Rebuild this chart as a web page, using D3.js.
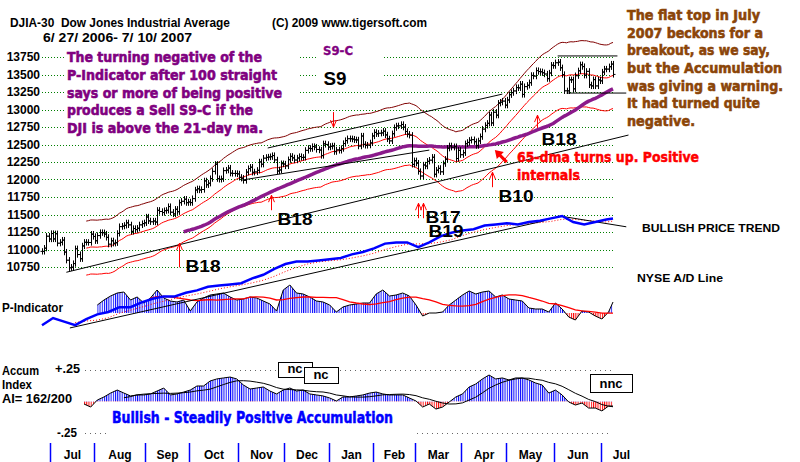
<!DOCTYPE html>
<html>
<head>
<meta charset="utf-8">
<script src="https://cdn.jsdelivr.net/npm/d3@7"></script>
<style>
  body { margin: 0; background: #fff; }
  text { font-family: "Liberation Sans", Arial, sans-serif; font-weight: bold; }
  text.heavy { font-family: "DejaVu Sans", sans-serif; }
</style>
</head>
<body>
<svg id="chart" width="800" height="462"></svg>
<script>
// DJIA daily closes, 6/27/2006 - 7/10/2007
var closes = [
  10973, 11019, 11190, 11150,
  11228, 11151, 11225, 11090, 11103, 11134, 10963, 10847, 10739, 10747, 10799, 11011, 10928, 10868, 11051, 11103, 11102, 11100, 11219, 11186,
  11125, 11199, 11242, 11240, 11220, 11173, 11076, 11124, 11089, 11097, 11230, 11327, 11334, 11345, 11381, 11352, 11259, 11300, 11284, 11304, 11352, 11370, 11381,
  11464, 11409, 11396, 11407, 11392, 11560, 11543, 11528, 11555, 11560, 11613, 11533, 11508, 11575, 11540, 11669, 11689, 11718, 11669, 11679,
  11670, 11727, 11850, 11867, 11850, 11857, 11980, 11925, 11947, 12013, 12116, 12217, 12012, 12002, 12011, 12127, 12134, 12163, 12090, 12087, 12086, 12080,
  12031, 12018, 11986, 12105, 12156, 12176, 12103, 12108, 12131, 12251, 12218, 12305, 12316, 12321, 12326, 12342, 12280, 12121, 12136, 12226, 12221,
  12194, 12283, 12331, 12309, 12278, 12307, 12328, 12315, 12317, 12416, 12445, 12441, 12471, 12463, 12429, 12421, 12343, 12510, 12501, 12463,
  12474, 12480, 12398, 12423, 12416, 12442, 12514, 12556, 12583, 12582, 12577, 12567, 12565, 12477, 12621, 12502, 12487, 12491, 12523, 12622,
  12673, 12653, 12661, 12666, 12690, 12637, 12580, 12552, 12654, 12741, 12765, 12767, 12786, 12748, 12686, 12647, 12632, 12216, 12268,
  12234, 12114, 12050, 12207, 12192, 12260, 12276, 12318, 12075, 12133, 12159, 12110, 12226, 12289, 12447, 12481, 12461, 12469, 12300, 12417, 12354,
  12382, 12511, 12530, 12560, 12569, 12540, 12484, 12552, 12612, 12720, 12773, 12803, 12921, 12808, 12961, 12919, 13090, 13105, 13120, 13062,
  13136, 13211, 13241, 13265, 13313, 13309, 13362, 13215, 13327, 13346, 13383, 13487, 13477, 13556, 13542, 13539, 13525, 13507, 13441, 13521, 13633, 13627,
  13668, 13676, 13596, 13500, 13267, 13266, 13424, 13425, 13295, 13483, 13553, 13639, 13613, 13490, 13545, 13352, 13337, 13427, 13337, 13422, 13409,
  13535, 13578, 13577, 13611, 13649, 13501
];

var priceTicks = [10750, 11000, 11250, 11500, 11750, 12000, 12250, 12500, 12750, 13000, 13250, 13500, 13750];
var monthNames = ["Jul", "Aug", "Sep", "Oct", "Nov", "Dec", "Jan", "Feb", "Mar", "Apr", "May", "Jun", "Jul"];
var monthStart = [4, 24, 47, 67, 89, 110, 130, 150, 169, 190, 210, 232, 253]; // first trading day of each month

// NYSE A/D line, one reading every 5 trading days
var adLine = [4, 10, 7, 4, 9, 13, 15, 19, 19, 23, 26, 28, 28, 31, 33, 36, 37, 38, 39, 43,
  46, 51, 55, 57, 57, 58, 59, 60, 63, 65, 68, 72, 73, 73, 69, 73, 78, 81, 83, 84,
  87, 88, 89, 88, 90, 91, 93, 95, 90, 88, 90, 92, 93];

// P-Indicator, one reading every 3 trading days from day 25
var pIndicator = [80, 130, 170, 200, 210, 130, 160, 100, 150, 230, 150, 120, 110, 130, 20, 110, 150, 180, 190, 200,
  160, 130, 140, 160, 150, 120, 90, 20, 230, 280, 200, 190, 160, 120, 110, 80, 10, 60, 80, 90,
  100, 100, 190, 230, 170, 180, 200, 170, 80, -30, 0, 0, 10, 80, 130, 180, 220, 190, 210, 220,
  160, 180, 140, 130, 120, 50, 40, 40, 10, 100, 40, -40, -70, 20, 10, -30, -60, 10, 110];

// Accumulation Index, one reading every 3 trading days from day 19
var accum = [-0.020, -0.044, 0.012, 0.036, 0.067, 0.091, 0.067, 0.044, 0.052, 0.052,
  0.060, 0.083, 0.107, 0.052, 0.060, 0.075, 0.091, 0.123, 0.123, 0.163,
  0.179, 0.187, 0.194, 0.179, 0.131, 0.099, 0.107, 0.115, 0.083, 0.060,
  0.091, 0.107, 0.083, 0.091, 0.060, 0.052, 0.044, 0.028, 0.004, 0.036,
  0.036, 0.044, 0.052, 0.067, 0.075, 0.060, 0.052, 0.052, 0.052, 0.028,
  0.004, -0.044, -0.020, -0.060, -0.044, -0.004, 0.036, 0.060, 0.115, 0.139,
  0.179, 0.210, 0.179, 0.187, 0.171, 0.187, 0.187, 0.171, 0.147, 0.131,
  0.067, 0.091, 0.052, -0.004, -0.028, -0.012, -0.052, -0.052, -0.075, -0.036,
  -0.036];

// hand-drawn trendlines [day, price]
var priceTrend = [[11, 10675], [265, 12635]];
var channelTop = [[102, 12450], [208, 13220]];
var channelBottom = [[90, 11990], [175, 12420]];
var flatTop = [[233, 13765], [260, 13765]];
var flatBottom = [[237, 13235], [264, 13235]];
var adTrend = [[12.6, 1.7], [227, 91]];
var adTop = [[234, 95], [264, 86]];

// signals: name, day, arrow tail price, arrow tip price
var signals = [
  ["B18", 62, 10745, 11090],
  ["B18", 103.5, 11561, 11776],
  ["S9", 131.5, 12963, 12748],
  ["B17", 170, 11447, 11661],
  ["B19", 172, 11447, 11661],
  ["B10", 203.3, 11890, 12105],
  ["B18", 223.6, 12734, 12920]
];
var signalLabelOffset = [[6, 5], [6, 15], [-10, -27], [7, 5], [5, 19], [6, 15], [4, 17]];

var svg = d3.select("#chart");
var n = closes.length;
var x = d3.scaleLinear().domain([0, n - 1]).range([42, 613]);
var y = d3.scaleLinear().domain([10750, 13750]).range([267, 57]);
var adY = d3.scaleLinear().domain([0, 100]).range([330, 210]);
var pY = d3.scaleLinear().domain([0, 300]).range([313, 283]);
var accY = d3.scaleLinear().domain([-0.25, 0.25]).range([433, 370]);

function movingAvg(arr, len) {
  return arr.map(function (v, i) {
    return i < len - 1 ? null : d3.mean(arr.slice(i - len + 1, i + 1));
  });
}

function label(s, x0, y0, w, size, color, heavy) {
  var t = svg.append("text").attr("x", x0).attr("y", y0)
    .attr("font-size", size).attr("fill", color).text(s);
  if (w) t.attr("textLength", w).attr("lengthAdjust", "spacingAndGlyphs");
  if (heavy) t.attr("class", "heavy").attr("stroke", color).attr("stroke-width", heavy);
  return t;
}

// hatch fills for histograms
var defs = svg.append("defs");
var step = x(1) - x(0);
function hatch(id, color) {
  var p = defs.append("pattern").attr("id", id)
    .attr("patternUnits", "userSpaceOnUse")
    .attr("x", x(0)).attr("width", step).attr("height", 20);
  p.append("rect").attr("width", 1).attr("height", 20).attr("fill", color);
}
hatch("blueHatch", "#0000ff");
hatch("redHatch", "#ff0000");

// ---- price grid
svg.append("g").selectAll("line").data(priceTicks).enter().append("line")
  .attr("x1", 42).attr("x2", 615)
  .attr("y1", function (d) { return Math.round(y(d)) + 0.5; })
  .attr("y2", function (d) { return Math.round(y(d)) + 0.5; })
  .attr("stroke", "#008000").attr("stroke-dasharray", "1,2");

svg.append("g").selectAll("text").data(priceTicks).enter().append("text")
  .attr("x", 40).attr("y", function (d) { return y(d) + 4; })
  .attr("text-anchor", "end").attr("font-size", 12)
  .text(function (d) { return d; });

// white backgrounds behind the text blocks
svg.append("rect").attr("x", 64).attr("y", 47).attr("width", 236).attr("height", 91).attr("fill", "#fff");
svg.append("rect").attr("x", 318).attr("y", 44).attr("width", 64).attr("height", 36).attr("fill", "#fff");

// ---- moving averages and bands
var ma21 = movingAvg(closes, 21);
var ma65 = movingAvg(closes, 65);
function priceLine(vals, k) {
  return d3.line().defined(function (d) { return d != null; })
    .x(function (d, i) { return x(i); })
    .y(function (d) { return y(d * k); })(vals);
}
svg.append("path").attr("d", priceLine(ma21, 1.035)).attr("fill", "none").attr("stroke", "#800000");
svg.append("path").attr("d", priceLine(ma21, 0.965)).attr("fill", "none").attr("stroke", "#ff0000");
svg.append("path").attr("d", priceLine(ma21, 1)).attr("fill", "none").attr("stroke", "#ff0000");
svg.append("path").attr("d", priceLine(ma65, 1)).attr("fill", "none").attr("stroke", "#8b1a8b").attr("stroke-width", 3.5);

// ---- OHLC bars
var barPath = closes.map(function (c, i) {
  var o = i > 0 ? closes[i - 1] : c;
  var hi = Math.max(o, c) + 45, lo = Math.min(o, c) - 45;
  var xr = Math.round(x(i)) + 0.5;
  return "M" + xr + "," + y(hi) + "V" + y(lo) +
    "M" + (xr - 2) + "," + y(o) + "H" + xr +
    "M" + xr + "," + y(c) + "H" + (xr + 2);
}).join("");
svg.append("path").attr("d", barPath).attr("stroke", "#000").attr("fill", "none");

// ---- trendlines
var trendLine = d3.line().x(function (d) { return x(d[0]); }).y(function (d) { return y(d[1]); });
[priceTrend, channelTop, channelBottom, flatTop, flatBottom].forEach(function (t) {
  svg.append("path").attr("d", trendLine(t)).attr("stroke", "#000").attr("fill", "none");
});

// ---- P-Indicator histogram
var pData = pIndicator.map(function (v, k) { return [Math.min(25 + 3 * k, n - 1), v]; });
var pArea = d3.area().x(function (d) { return x(d[0]); }).y0(pY(0)).y1(function (d) { return pY(d[1]); });
defs.append("clipPath").attr("id", "pPos").append("rect").attr("x", 0).attr("y", 0).attr("width", 800).attr("height", pY(0));
defs.append("clipPath").attr("id", "pNeg").append("rect").attr("x", 0).attr("y", pY(0)).attr("width", 800).attr("height", 100);
svg.append("path").attr("d", pArea(pData)).attr("fill", "url(#blueHatch)").attr("clip-path", "url(#pPos)");
svg.append("path").attr("d", pArea(pData)).attr("fill", "url(#redHatch)").attr("clip-path", "url(#pNeg)");
svg.append("path").attr("d", d3.line().x(function (d) { return x(d[0]); }).y(function (d) { return pY(d[1]); })(pData))
  .attr("fill", "none").attr("stroke", "#000");
var pMa = movingAvg(pIndicator, 9);
svg.append("path")
  .attr("d", d3.line().defined(function (d, k) { return pMa[k] != null; })
    .x(function (d) { return x(d[0]); }).y(function (d, k) { return pY(pMa[k]); })(pData))
  .attr("fill", "none").attr("stroke", "#ff0000").attr("stroke-width", 1.3);

// ---- A/D line
var adData = adLine.map(function (v, k) { return [Math.min(5 * k, n - 1), v]; });
var adMa = movingAvg(adLine, 4);
var adLineGen = d3.line().x(function (d) { return x(d[0]); }).y(function (d) { return adY(d[1]); });
svg.append("path")
  .attr("d", d3.line().defined(function (d, k) { return adMa[k] != null; })
    .x(function (d) { return x(d[0]); }).y(function (d, k) { return adY(adMa[k]); })(adData))
  .attr("fill", "none").attr("stroke", "#ff0000").attr("stroke-dasharray", "1,2");
[adTrend, adTop].forEach(function (t) {
  svg.append("path").attr("d", adLineGen(t)).attr("stroke", "#000").attr("fill", "none");
});
svg.append("path").attr("d", adLineGen(adData)).attr("fill", "none").attr("stroke", "#0000ff").attr("stroke-width", 2.5);

// ---- Accumulation Index
var aData = accum.map(function (v, k) { return [Math.min(19 + 3 * k, n - 1), v]; });
var aArea = d3.area().x(function (d) { return x(d[0]); }).y0(accY(0)).y1(function (d) { return accY(d[1]); });
defs.append("clipPath").attr("id", "aPos").append("rect").attr("x", 0).attr("y", 0).attr("width", 800).attr("height", accY(0));
defs.append("clipPath").attr("id", "aNeg").append("rect").attr("x", 0).attr("y", accY(0)).attr("width", 800).attr("height", 100);
svg.append("line").attr("x1", 85).attr("x2", 612).attr("y1", 370.5).attr("y2", 370.5)
  .attr("stroke", "#666").attr("stroke-dasharray", "1,4");
svg.append("line").attr("x1", 85).attr("x2", 110).attr("y1", 433.5).attr("y2", 433.5)
  .attr("stroke", "#666").attr("stroke-dasharray", "1,4");
svg.append("line").attr("x1", 417).attr("x2", 612).attr("y1", 433.5).attr("y2", 433.5)
  .attr("stroke", "#666").attr("stroke-dasharray", "1,4");
svg.append("path").attr("d", aArea(aData)).attr("fill", "url(#blueHatch)").attr("clip-path", "url(#aPos)");
svg.append("path").attr("d", aArea(aData)).attr("fill", "url(#redHatch)").attr("clip-path", "url(#aNeg)");
svg.append("path").attr("d", d3.line().x(function (d) { return x(d[0]); }).y(function (d) { return accY(d[1]); })(aData))
  .attr("fill", "none").attr("stroke", "#000");
var aMa = movingAvg(accum, 7);
svg.append("path")
  .attr("d", d3.line().defined(function (d, k) { return aMa[k] != null; })
    .x(function (d) { return x(d[0]); }).y(function (d, k) { return accY(aMa[k]); })(aData))
  .attr("fill", "none").attr("stroke", "#000");

// ---- month axis
var tickX = monthStart.map(function (d) { return Math.round(x(d - 0.5)) + 0.5; });
svg.append("g").selectAll("line").data(tickX).enter().append("line")
  .attr("x1", function (d) { return d; }).attr("x2", function (d) { return d; })
  .attr("y1", 443).attr("y2", 462).attr("stroke", "#0000ff").attr("stroke-width", 1.5);
svg.append("g").selectAll("text").data(monthNames).enter().append("text")
  .attr("x", function (d, i) { return ((tickX[i]) + (i < tickX.length - 1 ? tickX[i + 1] : tickX[i] + 40)) / 2; })
  .attr("y", 459).attr("text-anchor", "middle").attr("font-size", 12)
  .text(function (d) { return d; });

// ---- signal arrows
signals.forEach(function (s, i) {
  var ax = Math.round(x(s[1])) + 0.5, y0 = y(s[2]), y1 = y(s[3]);
  var dir = y1 < y0 ? 1 : -1;
  svg.append("path")
    .attr("d", "M" + ax + "," + y0 + "V" + y1 + "M" + (ax - 3) + "," + (y1 + dir * 7) + "L" + ax + "," + y1 + "L" + (ax + 3) + "," + (y1 + dir * 7))
    .attr("stroke", "#ff0000").attr("fill", "none");
  label(s[0], ax + signalLabelOffset[i][0], y0 + signalLabelOffset[i][1], s[0].length * 12 - 1, s[0] === "S9" ? 18 : 17, "#000");
});

// 65-dma turning arrow
var tA = [x(210), y(12248)], tB = [x(204.6), y(12420)];
svg.append("line").attr("x1", tA[0]).attr("y1", tA[1]).attr("x2", tB[0] + 4).attr("y2", tB[1] + 4)
  .attr("stroke", "#ff0000").attr("stroke-width", 3);
svg.append("path")
  .attr("d", "M" + tB[0] + "," + tB[1] + "l9,2l-7,7z").attr("fill", "#ff0000");

// ---- text annotations
label("DJIA-30\u00a0\u00a0Dow Jones Industrial Average", 10, 27, 220, 13, "#000");
label("(C) 2009 www.tigersoft.com", 272, 27, 155, 13, "#000");
label("6/ 27/ 2006- 7/ 10/ 2007", 43, 42, 149, 13, "#000");

var purple = "#800080";
[["The turning negative of the", 62, 195], ["P-Indicator after 100 straight", 80, 210],
 ["says or more of being positive", 97.5, 215], ["produces a Sell S9-C if the", 115, 186],
 ["DJI is above the 21-day ma.", 133, 196]].forEach(function (l) {
  label(l[0], 67, l[1], l[2], 14, purple, 0.6);
});
label("S9-C", 323, 55, 30, 12, purple, 0.3);

var brown = "#8b4508";
[["The flat top in July", 20, 133], ["2007 beckons for a", 37.5, 136], ["breakout, as we say,", 55, 143],
 ["but the Accumulation", 73, 155], ["was giving a warning.", 91, 156], ["It had turned quite", 108, 133],
 ["negative.", 126, 68]].forEach(function (l) {
  label(l[0], 627, l[1], l[2], 14, brown, 0.6);
});

label("65-dma turns up. Positive", 517, 162, 182, 14, "#ff0000", 0.5);
label("internals", 517, 180, 63, 14, "#ff0000", 0.5);

label("BULLISH PRICE TREND", 642, 232, 138, 11, "#000");
label("NYSE A/D Line", 637, 282, 86, 11, "#000");
label("P-Indicator", 2, 312, 61, 12, "#000");
label("Accum", 2, 375, 37, 12, "#000");
label("Index", 2, 389, 30, 12, "#000");
label("AI= 162/200", 2, 403, 70, 12, "#000");
label("+.25", 55, 373, 25, 12, "#000");
label("-.25", 57, 437, 20, 12, "#000");
label("Bullish - Steadily Positive Accumulation", 112, 423, 281, 15, "#0000ff", 0.5);

// nc boxes
[["nc", 278, 362, 34, 15], ["nc", 304, 367, 34, 16], ["nnc", 590, 374, 42, 18]].forEach(function (b) {
  svg.append("rect").attr("x", b[1] + 0.5).attr("y", b[2] + 0.5).attr("width", b[3]).attr("height", b[4])
    .attr("fill", "#fff").attr("stroke", "#000");
  label(b[0], b[1] + b[3] / 2, b[2] + b[4] - 4, null, 13, "#000").attr("text-anchor", "middle");
});
</script>
</body>
</html>
